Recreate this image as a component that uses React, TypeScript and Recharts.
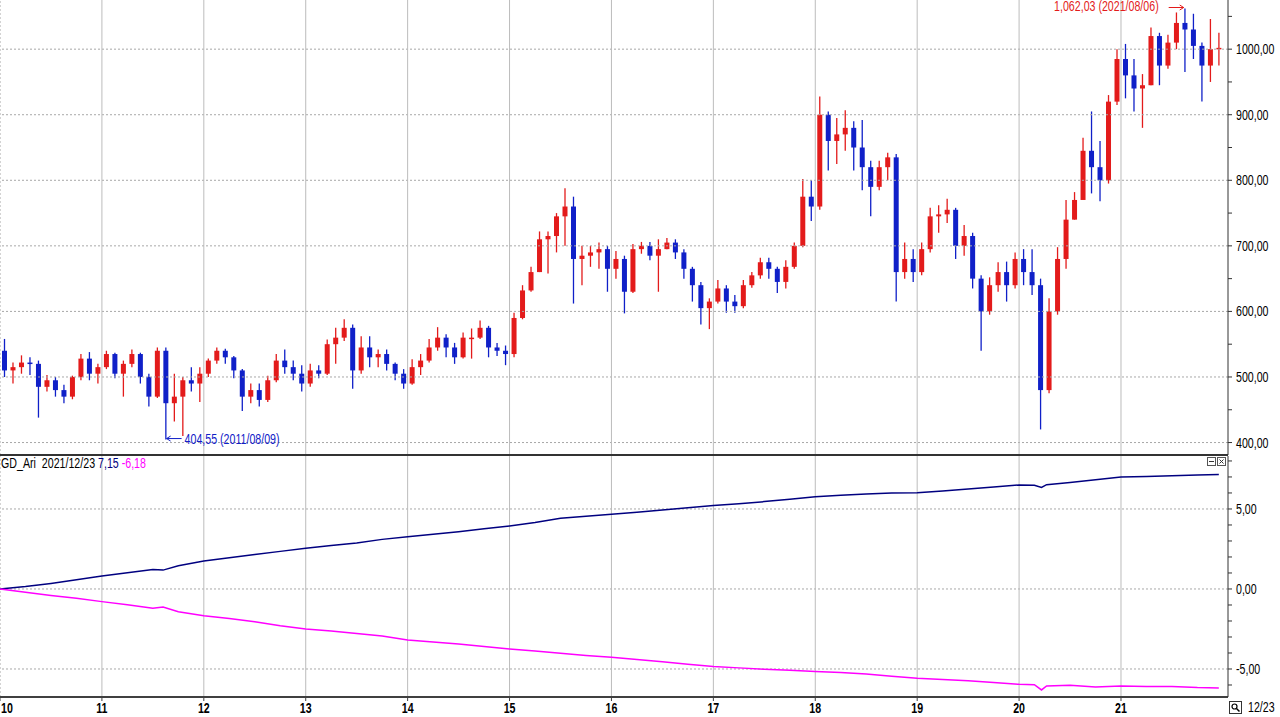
import React from 'react'
import { ComposedChart, Bar, Line, XAxis, YAxis, ReferenceLine, ReferenceDot } from 'recharts'

const RED = '#e31b1b'
const BLUE = '#1020c8'
const NAVY = '#000080'
const MAGENTA = '#ff00ff'
const FONT = "'Liberation Sans', Arial, sans-serif"
const FS = 14
const SX = 0.76 // horizontal squeeze to mimic the narrow terminal font

const years = [2010, 2011, 2012, 2013, 2014, 2015, 2016, 2017, 2018, 2019, 2020, 2021]
const xDomain = [2010, 2022.05]

// monthly candles, Jan 2010 .. Dec 2021 (one line per year)
const opens = [
  540, 510, 515, 522, 520, 485, 495, 480, 470, 500, 528, 505,
  515, 535, 505, 520, 535, 500, 470, 540, 460, 470, 495, 490,
  505, 525, 540, 530, 510, 470, 480, 465, 495, 525, 515, 505,
  490, 510, 505, 550, 560, 575, 510, 545, 530, 535, 520, 505,
  490, 515, 525, 545, 560, 545, 530, 560, 560, 575, 545, 540,
  535, 590, 632, 660, 710, 715, 745, 760, 680, 685, 690, 695,
  665, 680, 630, 695, 700, 685, 695, 705, 690, 665, 640, 605,
  615, 635, 615, 608, 640, 655, 675, 665, 645, 668, 700, 775,
  760, 900, 860, 870, 880, 850, 820, 790, 820, 835, 660, 680,
  660, 695, 745, 748, 755, 700, 715, 650, 600, 640, 660, 640,
  680, 660, 640, 480, 600, 680, 740, 770, 845, 820, 800, 920,
  985, 960, 940, 945, 1020, 975, 1010, 1040, 1030, 1005, 975, 1000,
]
const highs = [
  558, 522, 533, 530, 525, 503, 500, 488, 502, 535, 538, 520,
  540, 537, 525, 542, 537, 505, 545, 545, 505, 500, 515, 515,
  528, 545, 543, 532, 512, 490, 490, 502, 535, 542, 525, 518,
  520, 518, 557, 575, 588, 580, 562, 562, 542, 542, 522, 512,
  527, 535, 558, 576, 565, 552, 568, 574, 586, 578, 552, 548,
  598, 640, 668, 722, 722, 750, 788, 775, 700, 700, 705, 700,
  692, 685, 703, 706, 706, 710, 712, 710, 695, 668, 645, 620,
  648, 640, 625, 648, 660, 682, 682, 668, 678, 705, 802, 800,
  928, 905, 895, 907, 890, 892, 830, 830, 842, 840, 705, 695,
  705, 758, 762, 772, 758, 732, 720, 655, 652, 675, 676, 690,
  695, 695, 650, 620, 698, 770, 782, 865, 905, 860, 930, 1000,
  1008, 985, 962, 1033, 1025, 1022, 1056, 1062.03, 1054, 1010, 1046, 1025,
]
const lows = [
  500, 490, 505, 503, 438, 478, 470, 460, 466, 495, 495, 490,
  512, 498, 470, 515, 490, 455, 468, 404.55, 432, 410, 478, 462,
  500, 520, 520, 498, 448, 460, 455, 462, 492, 505, 495, 478,
  485, 498, 503, 520, 555, 482, 505, 515, 515, 510, 495, 482,
  488, 503, 522, 540, 530, 520, 528, 528, 558, 530, 532, 518,
  530, 588, 630, 660, 658, 690, 700, 612, 640, 668, 665, 630,
  650, 597, 628, 688, 678, 630, 695, 680, 650, 615, 580, 573,
  612, 598, 598, 605, 636, 650, 650, 628, 635, 665, 698, 738,
  755, 815, 825, 845, 815, 785, 745, 785, 800, 615, 650, 645,
  655, 690, 720, 735, 680, 685, 635, 540, 595, 630, 615, 635,
  640, 625, 420, 475, 595, 665, 740, 775, 780, 768, 795, 915,
  925, 905, 880, 945, 945, 970, 1000, 965, 985, 920, 950, 975,
]
const closes = [
  510, 515, 522, 520, 485, 495, 480, 470, 500, 528, 505, 515,
  535, 505, 520, 535, 500, 470, 540, 460, 470, 495, 490, 505,
  525, 540, 530, 510, 470, 480, 465, 495, 525, 515, 505, 490,
  510, 505, 550, 560, 575, 510, 545, 530, 535, 520, 505, 490,
  515, 525, 545, 560, 545, 530, 560, 560, 575, 545, 540, 535,
  590, 632, 660, 710, 715, 745, 760, 680, 685, 690, 695, 665,
  680, 630, 695, 700, 685, 695, 705, 690, 665, 640, 605, 615,
  635, 615, 608, 640, 655, 675, 665, 645, 668, 700, 775, 760,
  900, 860, 870, 880, 850, 820, 790, 820, 835, 660, 680, 660,
  695, 745, 748, 755, 700, 715, 650, 600, 640, 660, 640, 680,
  660, 640, 480, 600, 680, 740, 770, 845, 820, 800, 920, 985,
  960, 940, 945, 1020, 975, 1010, 1040, 1030, 1005, 975, 1000, 1002,
]

const priceTicks = [400, 450, 500, 550, 600, 650, 700, 750, 800, 850, 900, 950, 1000, 1050]
const priceGrid = [400, 500, 600, 700, 800, 900, 1000]
const lowDate = '2011/08/09'
const highDate = '2021/08/06'

// GD_Ari indicator (lower panel)
const gdDates = [
  2010, 2010.25, 2010.5, 2010.75,
  2011, 2011.25, 2011.5, 2011.6, 2011.75,
  2012, 2012.25, 2012.5, 2012.75,
  2013, 2013.25, 2013.5, 2013.75,
  2014, 2014.25, 2014.5, 2014.75,
  2015, 2015.25, 2015.5, 2015.75,
  2016, 2016.25, 2016.5, 2016.75,
  2017, 2017.25, 2017.5, 2017.75,
  2018, 2018.25, 2018.5, 2018.75,
  2019, 2019.25, 2019.5, 2019.75,
  2020, 2020.15, 2020.22, 2020.27, 2020.5, 2020.75,
  2021, 2021.25, 2021.5, 2021.75, 2021.96,
]
const gdUpper = [
  0, 0.15, 0.35, 0.58,
  0.81, 1.02, 1.22, 1.18, 1.45,
  1.75, 1.95, 2.15, 2.35,
  2.54, 2.72, 2.88, 3.1,
  3.27, 3.42, 3.58, 3.76,
  3.94, 4.15, 4.42, 4.55,
  4.67, 4.8, 4.94, 5.08,
  5.21, 5.33, 5.46, 5.6,
  5.77, 5.86, 5.94, 6.0,
  6.02, 6.12, 6.25, 6.38,
  6.5, 6.48, 6.35, 6.52, 6.65, 6.82,
  7.0, 7.03, 7.08, 7.13, 7.15,
]
const gdLower = [
  0, -0.2, -0.4, -0.58,
  -0.79, -0.98, -1.2, -1.13, -1.42,
  -1.67, -1.85, -2.05, -2.3,
  -2.5, -2.62, -2.78, -2.94,
  -3.19, -3.31, -3.44, -3.6,
  -3.75, -3.88, -4.02, -4.15,
  -4.27, -4.4, -4.54, -4.7,
  -4.85, -4.93, -5.02, -5.08,
  -5.15, -5.22, -5.31, -5.45,
  -5.58, -5.65, -5.73, -5.85,
  -5.96, -5.98, -6.31, -6.06, -6.02, -6.12,
  -6.06, -6.1, -6.1, -6.16, -6.18,
]
const gdTicks = [-6, -5, -4, -3, -2, -1, 0, 1, 2, 3, 4, 5, 6, 7, 8]
const gdGrid = [-5, 0, 5]
const lastDate = '2021/12/23'
const lastLabel = '12/23'

const candles = opens.map((o, i) => ({
  t: 2010 + (i + 0.5) / 12,
  open: o,
  high: highs[i],
  low: lows[i],
  close: closes[i],
}))
const gdRows = gdDates.map((t, i) => ({ t, up: gdUpper[i], down: gdLower[i] }))

const lowPoint = candles.reduce((a, b) => (b.low < a.low ? b : a))
const highPoint = candles.reduce((a, b) => (b.high > a.high ? b : a))

const fmt = (v: number) => v.toFixed(2).replace('.', ',')
const fmtK = (v: number) => {
  const [i, d] = v.toFixed(2).split('.')
  return i.replace(/\B(?=(\d{3})+(?!\d))/g, ',') + ',' + d
}

// svg text squeezed horizontally around its anchor
function NText({ x, y, children, anchor = 'start', fill = '#000', bold = false }: any) {
  return (
    <text
      transform={`translate(${x},${y}) scale(${SX},1)`}
      dy={5}
      textAnchor={anchor}
      fontSize={FS}
      fontWeight={bold ? 'bold' : 'normal'}
      fontFamily={FONT}
      fill={fill}
    >
      {children}
    </text>
  )
}

function Candle(props: any) {
  const { x, y, width, height, payload } = props
  if (x == null || y == null || !payload) return null
  const top = Math.min(y, y + height)
  const span = Math.abs(height)
  const { open, high, low, close } = payload
  const k = high > low ? span / (high - low) : 0
  const yOf = (v: number) => top + (high - v) * k
  const cx = x + width / 2
  const color = close >= open ? RED : BLUE
  const bTop = yOf(Math.max(open, close))
  const bBot = yOf(Math.min(open, close))
  return (
    <g>
      <line x1={cx} x2={cx} y1={top} y2={top + span} stroke={color} strokeWidth={1.3} />
      <rect x={cx - 2.5} y={bTop} width={5} height={Math.max(1.5, bBot - bTop)} fill={color} />
    </g>
  )
}

function PriceTick(props: any) {
  const { x, y, payload } = props
  if (payload.value % 100 !== 0) return <g />
  return <NText x={x} y={y}>{fmt(payload.value)}</NText>
}

function GdTick(props: any) {
  const { x, y, payload } = props
  if (payload.value % 5 !== 0) return <g />
  return <NText x={x} y={y}>{fmt(payload.value)}</NText>
}

function YearTick(props: any) {
  const { x, y, payload, index } = props
  return (
    <NText x={index === 0 ? x + 1 : x} y={y + 5} anchor={index === 0 ? 'start' : 'middle'} bold>
      {String(payload.value % 100).padStart(2, '0')}
    </NText>
  )
}

function LowNote(props: any) {
  const { cx, cy } = props
  if (cx == null) return null
  const yy = cy - 1
  return (
    <g>
      <line x1={cx + 1} x2={cx + 16} y1={yy} y2={yy} stroke={BLUE} />
      <path d={`M${cx + 1},${yy} l4,-2.5 M${cx + 1},${yy} l4,2.5`} stroke={BLUE} fill="none" />
      <NText x={cx + 19} y={yy} fill={BLUE}>{`${fmt(lowPoint.low)} (${lowDate})`}</NText>
    </g>
  )
}

function HighNote(props: any) {
  const { cx, cy } = props
  if (cx == null) return null
  const yy = cy - 1
  return (
    <g>
      <line x1={cx - 16} x2={cx - 1} y1={yy} y2={yy} stroke={RED} />
      <path d={`M${cx - 1},${yy} l-4,-2.5 M${cx - 1},${yy} l-4,2.5`} stroke={RED} fill="none" />
      <NText x={cx - 26} y={yy - 1.5} anchor="end" fill={RED}>{`${fmtK(highPoint.high)} (${highDate})`}</NText>
    </g>
  )
}

const squeeze: React.CSSProperties = {
  display: 'inline-block',
  transform: `scaleX(${SX})`,
  transformOrigin: 'left center',
  whiteSpace: 'pre',
}

export default function App() {
  return (
    <div
      style={{
        position: 'fixed',
        left: 0,
        top: 0,
        width: 1280,
        height: 717,
        background: '#fff',
        overflow: 'hidden',
        fontFamily: FONT,
      }}
    >
      <div style={{ position: 'absolute', left: 0, top: 0 }}>
        <ComposedChart width={1280} height={456} data={candles} margin={{ top: 0, right: 0, left: 0, bottom: 0 }}>
          <XAxis
            dataKey="t"
            type="number"
            domain={xDomain}
            ticks={years}
            tick={false}
            tickLine={false}
            axisLine={{ stroke: '#333', strokeWidth: 2 }}
            height={1}
            allowDataOverflow
          />
          <YAxis
            orientation="right"
            width={52}
            domain={[381, 1075]}
            ticks={priceTicks}
            interval={0}
            tick={<PriceTick />}
            tickSize={4}
            tickMargin={4}
            axisLine={{ stroke: '#333' }}
            tickLine={{ stroke: '#333' }}
            allowDataOverflow
          />
          {priceGrid.map((v) => (
            <ReferenceLine key={v} y={v} stroke="#a8a8a8" strokeDasharray="2 2" />
          ))}
          {years.map((yr) => (
            <ReferenceLine
              key={yr}
              x={yr}
              stroke={yr === 2010 ? '#a8a8a8' : '#bcbcbc'}
              strokeDasharray={yr === 2010 ? '2 2' : undefined}
            />
          ))}
          <Bar
            dataKey={(d: any) => [d.low, d.high]}
            shape={<Candle />}
            barSize={5}
            isAnimationActive={false}
          />
          <ReferenceDot x={lowPoint.t} y={lowPoint.low} r={0} ifOverflow="visible" shape={(p: any) => <LowNote {...p} />} />
          <ReferenceDot x={highPoint.t} y={highPoint.high} r={0} ifOverflow="visible" shape={(p: any) => <HighNote {...p} />} />
        </ComposedChart>
      </div>

      <div style={{ position: 'absolute', left: 0, top: 456 }}>
        <ComposedChart width={1280} height={261} data={gdRows} margin={{ top: 0, right: 0, left: 0, bottom: 0 }}>
          <XAxis
            dataKey="t"
            type="number"
            domain={xDomain}
            ticks={years}
            interval={0}
            tick={<YearTick />}
            tickSize={4}
            axisLine={{ stroke: '#404040', strokeWidth: 2 }}
            tickLine={{ stroke: '#404040' }}
            height={20}
            allowDataOverflow
          />
          <YAxis
            orientation="right"
            width={52}
            domain={[-6.75, 8.31]}
            ticks={gdTicks}
            interval={0}
            tick={<GdTick />}
            tickSize={4}
            tickMargin={4}
            axisLine={{ stroke: '#333' }}
            tickLine={{ stroke: '#333' }}
            allowDataOverflow
          />
          {gdGrid.map((v) => (
            <ReferenceLine key={v} y={v} stroke="#a8a8a8" strokeDasharray="2 2" />
          ))}
          {years.map((yr) => (
            <ReferenceLine
              key={yr}
              x={yr}
              stroke={yr === 2010 ? '#a8a8a8' : '#bcbcbc'}
              strokeDasharray={yr === 2010 ? '2 2' : undefined}
            />
          ))}
          <Line type="linear" dataKey="up" stroke={NAVY} strokeWidth={1.5} dot={false} isAnimationActive={false} />
          <Line type="linear" dataKey="down" stroke={MAGENTA} strokeWidth={1.5} dot={false} isAnimationActive={false} />
        </ComposedChart>
      </div>

      <div style={{ position: 'absolute', left: 1, top: 456, fontSize: FS, lineHeight: '15px', color: '#000' }}>
        <span style={squeeze}>
          {`GD_Ari  ${lastDate} `}
          <span style={{ color: NAVY }}>{fmt(gdUpper[gdUpper.length - 1])}</span>{' '}
          <span style={{ color: MAGENTA }}>{fmt(gdLower[gdLower.length - 1])}</span>
        </span>
      </div>

      <svg style={{ position: 'absolute', left: 1207, top: 457 }} width={20} height={10}>
        <rect x={0.5} y={0.5} width={8} height={8} fill="#fff" stroke="#555" />
        <line x1={2} x2={7} y1={4.5} y2={4.5} stroke="#333" />
        <rect x={10.5} y={0.5} width={8} height={8} fill="#fff" stroke="#555" />
        <path d="M12.5,2.5 L16.5,6.5 M16.5,2.5 L12.5,6.5" stroke="#333" />
      </svg>

      <svg style={{ position: 'absolute', left: 1229, top: 701 }} width={14} height={14}>
        <rect x={0.5} y={0.5} width={12} height={12} fill="#fff" stroke="#333" />
        <circle cx={5.5} cy={5.5} r={2.5} fill="none" stroke="#000" strokeWidth={1.2} />
        <line x1={7.5} y1={7.5} x2={10.5} y2={10.5} stroke="#000" strokeWidth={1.5} />
      </svg>
      <div style={{ position: 'absolute', left: 1248, top: 700, fontSize: FS, lineHeight: '15px', color: '#000' }}>
        <span style={squeeze}>{lastLabel}</span>
      </div>
    </div>
  )
}
